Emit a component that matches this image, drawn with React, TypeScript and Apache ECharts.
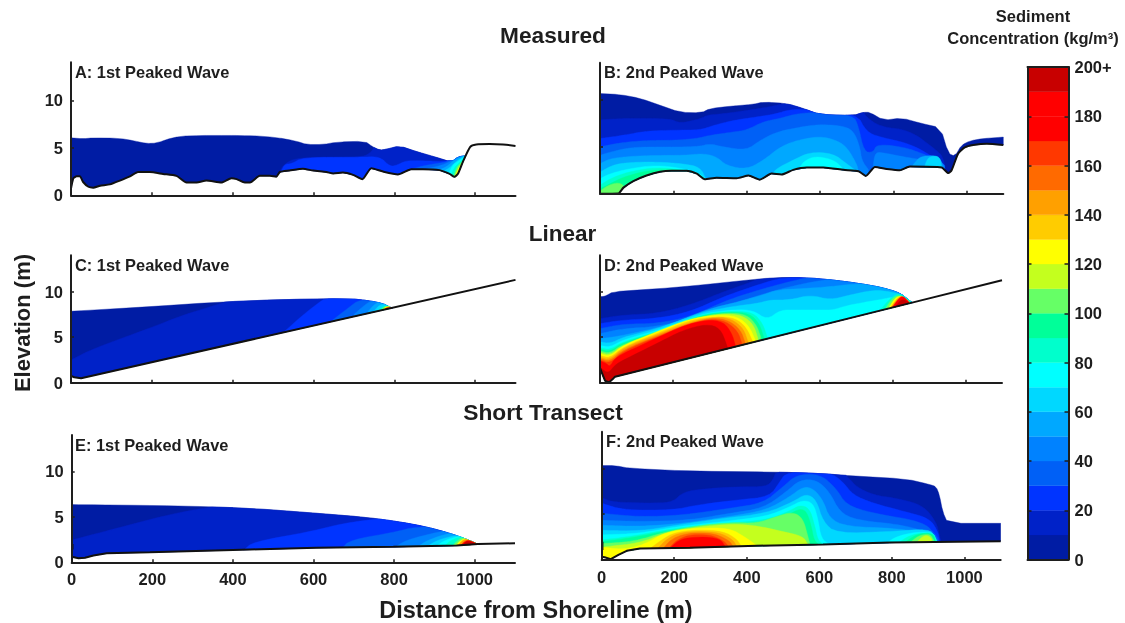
import React, { useEffect, useRef } from "react";
import * as echarts from "echarts";

type Pts = number[][];
type Contour = [number, Pts];

const xTicks = [0, 200, 400, 600, 800, 1000];
const yTicks = [0, 5, 10];
const barTicks = [0, 20, 40, 60, 80, 100, 120, 140, 160, 180, 200];
const barTickTop = "200+";
const bandLevels = [0, 10, 20, 30, 40, 50, 60, 70, 80, 90, 100, 110, 120, 130, 140, 150, 160, 170, 180, 190];
const bandColors = ["#001ca4", "#0022c8", "#0034ff", "#0060f6", "#0082ff", "#00a8ff", "#00d8ff", "#00ffff", "#00ffcc", "#00ff99", "#66ff66", "#c4ff1e", "#ffff00", "#ffcc00", "#ffa000", "#ff6a00", "#ff3800", "#ff0000", "#ff0000", "#c80000"];

const panelLabels = ["A: 1st Peaked Wave", "B: 2nd Peaked Wave", "C: 1st Peaked Wave", "D: 2nd Peaked Wave", "E: 1st Peaked Wave", "F: 2nd Peaked Wave"];

// Panel A
const bedA: Pts = [[0,0.7],[6,1.8],[14,2],[22,2],[30,1.4],[43,0.9],[55,0.8],[72,1],[96,1.15],[121,1.55],[146,2],[166,2.45],[195,2.45],[228,2.25],[261,2.05],[286,1.35],[311,1.35],[335,1.55],[372,1.35],[397,1.8],[410,1.7],[430,1.35],[443,1.35],[467,2.05],[492,2.05],[508,1.95],[517,2.45],[541,2.6],[574,2.8],[599,2.6],[632,2.45],[649,2.3],[673,2.4],[698,2.15],[721,1.7],[743,2.85],[772,2.5],[809,2.2],[842,2.75],[871,2.75],[912,2.65],[937,2.25],[949,1.95],[958,2.3],[970,3.55],[988,5.1],[1003,5.35],[1036,5.4],[1069,5.35],[1100,5.2]];
const surfaceA: Pts = [[0,6.05],[30,5.95],[55,6.05],[121,6],[154,5.75],[187,5.45],[212,5.5],[253,6.1],[294,6.3],[443,6.3],[508,6.1],[558,5.7],[583,5.35],[624,5.35],[657,5.6],[727,5.7],[747,5.1],[764,4.75],[780,4.85],[813,5.2],[855,4.6],[904,4],[941,3.5],[958,4.05],[974,4.15]];
const contoursA: Contour[] = [
  [10, [[517,2.5],[525,3.2],[558,4],[690,4],[723,4.1],[739,4.4],[752,5.1],[764,6.5],[980,6.5]]],
  [20, [[520,2.5],[529,3.3],[545,3.3],[574,4],[714,4],[764,4.1],[790,3],[808,3.2],[829,3.65],[866,3.65],[941,3.5],[950,5],[980,5]]],
  [30, [[846,2.8],[871,3.1],[912,3.4],[937,3.55],[945,5],[980,5]]],
  [40, [[880,2.8],[912,3.1],[937,3.5],[950,3.95],[975,4.2]]],
  [50, [[912,2.7],[930,3],[950,3.8],[975,4.2]]],
  [60, [[925,2.6],[940,3],[952,3.55],[975,4.2]]],
  [70, [[935,2.4],[945,3.2],[955,3.5],[975,4.1]]],
  [80, [[942,2.3],[950,3],[960,3.4],[975,4]]],
  [100, [[947,2],[955,3],[965,3.4],[975,3.9]]],
  [120, [[950,2],[958,2.8],[968,3.4],[974,3.7]]],
  [140, [[955,2.1],[962,2.8],[970,3.4]]],
];

// Panel B
const bedB: Pts = [[0,0],[50,0.02],[64,0.65],[91,1.35],[127,1.95],[164,2.35],[195,2.45],[236,2.45],[264,2.15],[286,1.55],[318,1.7],[373,1.65],[405,1.95],[436,1.5],[468,2.15],[495,2.05],[527,2.55],[564,2.8],[609,2.8],[664,2.55],[705,2.4],[725,1.9],[750,2.85],[782,2.65],[818,2.5],[845,2.9],[932,2.8],[950,2.2],[959,2.5],[977,4.3],[995,4.95],[1018,5.2],[1055,5.35],[1100,5.2]];
const surfaceB: Pts = [[0,10.7],[55,10.6],[109,10.2],[164,9.45],[218,8.7],[277,8.65],[300,9.1],[355,9.35],[418,9.55],[445,9.8],[509,9.65],[555,9.1],[600,8.45],[691,8.35],[718,8.7],[736,8.7],[773,7.85],[823,8.1],[873,7.55],[929,7.05],[950,4.3],[968,4],[986,5.2],[1009,5.65],[1045,5.9],[1100,6.05]];
const contoursB: Contour[] = [
  [10, [[0,7.9],[64,8.05],[191,8.05],[218,7.5],[277,8.05],[291,8.4],[336,8.55],[400,8.9],[464,9.3],[509,9.7],[555,9.7],[700,9.7],[718,8.8],[727,8.2],[764,7.15],[845,6.8],[918,4.65],[936,3.95],[945,2]]],
  [20, [[0,5.9],[64,6.25],[127,6.7],[200,6.8],[273,6.8],[309,7.3],[364,7.85],[427,8.2],[482,8.55],[518,9],[564,9],[700,8.6],[727,6.6],[764,6.05],[845,5.35],[909,3.95],[927,3.2],[940,2.6]]],
  [30, [[0,5],[55,5.45],[127,5.7],[200,5.7],[264,5.9],[300,6.25],[364,6.6],[400,6.8],[445,7.7],[491,8.05],[536,8.55],[591,8.7],[691,8.4],[705,7.2],[720,4.5],[745,4.4],[755,5.3],[827,5],[880,4.3],[918,3.6],[935,3]]],
  [40, [[0,4.1],[27,4.45],[82,4.95],[155,5],[264,5],[300,5.35],[336,5],[400,4.65],[436,5.7],[482,6.6],[536,7.05],[591,7.4],[655,7.3],[691,6.8],[709,5],[714,3.55],[732,2.6]]],
  [40, [[745,3],[750,4.3],[764,4.45],[827,3.95],[891,3.55],[918,3.95],[940,3]]],
  [50, [[0,3.2],[27,3.75],[82,4],[155,4.1],[227,4.1],[282,4.3],[318,3.95],[345,3],[400,2.6],[445,3.55],[491,5],[536,5.7],[600,6.15],[645,5.7],[673,5],[700,3.2],[705,2.4]]],
  [50, [[850,2.85],[860,3.4],[875,4],[915,4.1],[930,3.6],[935,2.8]]],
  [60, [[0,2.3],[36,3.1],[82,3.35],[155,3.4],[227,3.2],[273,2.85],[290,1.5]]],
  [60, [[470,2.1],[482,2.7],[527,3.6],[573,4.45],[636,4.3],[673,3.2],[700,2.4]]],
  [60, [[885,2.8],[890,3.5],[900,4],[927,4],[932,2.8]]],
  [70, [[0,1.6],[27,2.15],[82,2.7],[155,3.05],[227,2.7],[273,2.15],[290,1.5]]],
  [70, [[545,2.8],[555,3.4],[580,3.95],[615,3.85],[645,3.4],[664,2.6]]],
  [80, [[0,0.9],[27,1.6],[73,2.3],[155,2.85],[227,2.5],[264,2.15]]],
  [90, [[0,0.55],[27,1.05],[64,1.8],[136,2.55],[218,2.55],[245,2.3]]],
  [100, [[0,0.3],[27,1],[55,1.2],[70,0.6]]],
];

// Panel C
const bedC: Pts = [[0,0.75],[8,0.6],[25,0.5],[1100,11.3]];
const surfaceC: Pts = [[0,7.85],[195,8.35],[360,8.85],[525,9.15],[690,9.25],[739,9],[772,8.7],[789,8.3],[797,8.2]];
const contoursC: Contour[] = [
  [10, [[0,2.5],[55,3.75],[195,6],[278,7.45],[360,8.55],[410,9.3],[800,9.3]]],
  [20, [[520,5.3],[574,7.45],[616,8.9],[632,9.3],[800,9.3]]],
  [30, [[645,6.8],[690,8.35],[714,9.15],[800,9.15]]],
  [40, [[700,7.5],[731,8.7],[745,9],[800,9]]],
  [50, [[735,7.8],[750,8.6],[765,8.9],[800,8.9]]],
  [60, [[750,7.9],[765,8.6],[780,8.6],[800,8.5]]],
  [80, [[762,8],[772,8.4],[790,8.4]]],
  [100, [[770,8.1],[776,8.4],[790,8.4]]],
  [120, [[773,8],[778,8.35],[792,8.35]]],
  [140, [[776,8],[780,8.3],[790,8.3]]],
  [170, [[775,8],[782,8.25],[793,8.25],[796,8.15]]],
];

// Panel D
const bedD: Pts = [[0,1.6],[6,1],[14,0.2],[25,0.05],[35,0.4],[41,0.66],[854,8.8],[1100,11.25]];
const surfaceD: Pts = [[0,9.45],[14,9.5],[36,10],[110,10.2],[200,10.45],[292,10.8],[384,11.2],[475,11.55],[566,11.55],[658,11.2],[749,10.65],[795,10.2],[822,9.8],[840,9.25],[854,8.8]];
const contoursD: Contour[] = [
  [10, [[0,7.05],[64,7.45],[155,7.6],[247,8.55],[338,10],[402,10.9],[447,11.6],[860,11.6]]],
  [20, [[0,6.5],[64,6.9],[155,7.05],[247,7.8],[338,9.45],[402,10.35],[466,11.2],[511,11.6],[860,11.6]]],
  [30, [[0,5.95],[64,6.45],[155,6.5],[247,7.25],[338,8.9],[402,9.8],[484,10.75],[539,11.3],[575,11.6],[860,11.6]]],
  [40, [[0,5.4],[64,5.95],[155,6.15],[247,7.05],[338,8.35],[411,9.3],[484,10.2],[557,10.9],[630,11.4],[680,11.6],[860,11.6]]],
  [50, [[0,4.85],[36,5],[110,5.6],[201,6.5],[292,8.05],[384,8.95],[447,9.65],[484,10.2],[557,10.35],[630,10.55],[703,10.9],[758,10.8],[860,10.8]]],
  [60, [[0,4.5],[27,4.3],[64,5],[91,5.25],[174,6.15],[274,7.7],[365,8.4],[429,8.7],[466,9.1],[520,9.1],[575,9.65],[630,9.1],[685,9.65],[749,10.2],[795,10],[831,9.6],[860,9]]],
  [70, [[0,4.1],[27,3.9],[64,4.75],[174,5.95],[274,7.55],[365,8.05],[420,7.95],[457,6.9],[493,8],[539,8],[603,8],[640,8],[667,8.4],[731,8.9],[776,9.2],[800,9.4],[831,9.4]]],
  [80, [[0,3.85],[27,3.6],[64,4.55],[174,5.8],[274,7.5],[365,7.9],[420,7.7],[445,6.5],[457,5.1]]],
  [80, [[767,8],[790,9.1],[817,9.9],[840,9.25],[854,8.8]]],
  [90, [[0,3.7],[27,3.4],[64,4.45],[174,5.7],[274,7.4],[355,7.8],[410,7.6],[436,6.5],[448,5]]],
  [100, [[0,3.5],[27,3.2],[64,4.3],[174,5.6],[274,7.3],[350,7.7],[400,7.5],[428,6.4],[440,5]]],
  [100, [[781,8.15],[799,9.25],[817,9.65],[840,9.15],[849,8.8]]],
  [110, [[0,3.35],[27,3],[64,4.2],[174,5.5],[274,7.2],[340,7.6],[390,7.4],[420,6.4],[432,4.9]]],
  [120, [[0,3.2],[27,2.85],[64,4.15],[155,5.6],[247,7.05],[320,7.45],[375,7.3],[407,6.3],[425,4.7]]],
  [120, [[790,8.2],[805,9.2],[822,9.6],[840,9.1],[847,8.8]]],
  [130, [[0,3],[27,2.7],[64,3.95],[155,5.4],[247,6.9],[320,7.3],[370,7.1],[400,6.1],[417,4.6]]],
  [140, [[0,2.8],[27,2.5],[64,3.85],[155,5.25],[247,6.7],[320,7.25],[360,7],[392,6],[405,4.5]]],
  [140, [[795,8.25],[813,9.25],[826,9.55],[840,9]]],
  [150, [[0,2.65],[27,2.3],[64,3.65],[155,5.1],[247,6.55],[310,7.15],[352,6.85],[385,5.8],[397,4.4]]],
  [160, [[0,2.5],[27,2.1],[64,3.5],[155,5],[247,6.4],[300,7],[345,6.75],[378,5.6],[388,4.3]]],
  [170, [[0,2.4],[18,2.1],[27,1.75],[41,2.7],[73,3.4],[155,4.9],[228,6.3],[292,6.9],[338,6.7],[361,5.4],[370,4.15]]],
  [170, [[799,8.25],[817,9.25],[829,9.55],[845,8.9]]],
  [190, [[3,1.6],[22,1],[41,1.95],[64,2.5],[155,4.3],[228,5.8],[292,6.45],[329,6],[347,4.15],[350,3.6]]],
  [190, [[808,8.35],[826,9.25],[845,8.8]]],
];

// Panel E
const bedE: Pts = [[0,0.6],[17,0.45],[33,0.5],[54,0.75],[87,1],[194,1.1],[400,1.35],[607,1.6],[798,1.7],[955,1.85],[1008,2],[1100,2.1]];
const surfaceE: Pts = [[0,6.35],[112,6.3],[277,6.2],[442,5.95],[607,5.4],[731,4.95],[814,4.45],[880,3.9],[938,3.2],[979,2.55],[1008,2]];
const markE: Pts = [[2,1.4],[2,2]];
const contoursE: Contour[] = [
  [10, [[0,2.45],[112,3.75],[236,5.2],[318,5.9],[400,6.4],[1010,6.4]]],
  [20, [[426,1.3],[450,2.25],[590,3.35],[674,4.3],[773,4.85],[830,5],[1010,5]]],
  [30, [[670,1.5],[690,2.45],[806,3.35],[855,3.95],[1010,4]]],
  [40, [[800,1.6],[830,2.45],[897,3.2],[930,3.5],[1010,3.5]]],
  [50, [[858,1.7],[884,2.45],[938,3.25],[1010,3.25]]],
  [60, [[880,1.7],[908,2.45],[955,3],[1010,3]]],
  [70, [[905,1.8],[925,2.4],[960,2.9],[1010,2.9]]],
  [80, [[925,1.8],[940,2.4],[965,2.85],[1010,2.85]]],
  [100, [[945,1.8],[955,2.3],[970,2.75],[1010,2.7]]],
  [120, [[953,1.8],[962,2.3],[975,2.65],[1010,2.6]]],
  [140, [[958,1.8],[967,2.3],[978,2.6],[1010,2.5]]],
  [170, [[965,1.85],[975,2.3],[985,2.45],[1005,2.1]]],
  [190, [[971,1.9],[979,2.3],[992,2.3],[1004,2]]],
];

// Panel F
const bedF: Pts = [[0,0.35],[8,0.3],[25,0.1],[46,0.55],[69,1],[105,1.25],[243,1.35],[427,1.55],[610,1.7],[794,1.9],[977,2],[1100,2.05]];
const surfaceF: Pts = [[0,10.3],[37,10.3],[78,10],[243,9.7],[482,9.6],[601,9.45],[702,9.15],[839,8.85],[904,8.25],[922,8],[931,7.1],[940,5.3],[954,4],[1100,4]];
const markF: Pts = [[2,1.1],[2,2]];
const contoursF: Contour[] = [
  [10, [[0,6.8],[32,6.3],[151,6.2],[197,6.35],[225,7.45],[289,7.8],[381,8],[454,8],[472,8.75],[482,9.8],[656,9.8],[683,8.9],[702,8],[748,7.1],[812,6.75],[885,6],[922,4.2],[931,2.75],[936,1.9]]],
  [20, [[0,6.2],[60,5.45],[197,5.45],[261,6],[372,6.55],[463,6.9],[491,8.55],[509,9.6],[628,9.6],[665,8.55],[693,7.1],[748,6.2],[839,5.25],[904,4.55],[927,3.1],[931,2.2]]],
  [30, [[0,5.1],[105,4.7],[225,4.9],[353,5.65],[445,6.2],[500,8],[537,9.3],[601,9.4],[647,7.8],[674,6],[748,5.1],[885,4.2],[922,2.75],[930,2]]],
  [40, [[0,4.35],[105,4.2],[243,4.35],[353,5.1],[445,5.65],[509,7.45],[546,8.75],[592,8.75],[628,7.45],[656,5.25],[702,4.35],[839,3.8],[913,2.75],[925,2]]],
  [50, [[0,3.8],[105,3.65],[225,4],[353,4.75],[454,5.45],[518,6.9],[555,8],[583,7.8],[610,6.55],[628,4.55],[674,3.65],[821,3.45],[908,2.75],[920,2]]],
  [60, [[0,3.25],[105,3.15],[206,3.8],[335,4.55],[454,5.1],[527,6.35],[564,7.25],[592,6.55],[610,4.2],[647,2.9],[794,3.1],[904,3.4],[918,2.5],[925,1.9]]],
  [70, [[0,2.75],[105,2.9],[206,3.65],[335,4.2],[454,4.75],[518,5.8],[555,6.55],[583,6.2],[596,4.55],[605,2.35],[628,1.7]]],
  [70, [[785,1.85],[812,2.55],[858,3],[913,3.1],[925,2]]],
  [80, [[0,2.2],[78,2.55],[197,3.45],[335,4],[454,4.35],[518,5.35],[546,6],[573,5.65],[587,3.8],[596,2.2],[610,1.7]]],
  [80, [[820,1.9],[840,2.5],[870,2.9],[913,3],[922,2]]],
  [90, [[0,2],[78,2.4],[197,3.3],[335,3.85],[454,4.1],[518,5],[546,5.6],[565,5.3],[578,3.7],[585,2.2],[598,1.7]]],
  [90, [[835,1.9],[860,2.6],[880,2.9],[913,2.9],[920,2.1]]],
  [100, [[0,1.8],[87,2],[179,3.1],[271,3.8],[362,4.1],[427,4],[482,4.75],[527,5.25],[555,4.55],[569,2.5],[575,1.6]]],
  [100, [[850,1.9],[875,2.7],[905,2.85],[915,2.2]]],
  [110, [[0,1.4],[105,1.85],[170,2.9],[261,3.6],[362,3.95],[427,3.75],[500,3.1],[555,2.6],[570,1.6]]],
  [110, [[870,2],[885,2.6],[900,2.7],[910,2.3]]],
  [120, [[0,1.4],[60,1.15],[115,1.65],[179,3.1],[261,3.5],[353,3.5],[399,2.4],[427,1.6]]],
  [130, [[135,1.3],[165,2.2],[200,3],[261,3.3],[335,3.15],[372,2.3],[385,1.5]]],
  [140, [[155,1.3],[180,2.3],[210,2.9],[261,3.15],[325,3],[362,2.2],[372,1.5]]],
  [150, [[170,1.3],[190,2.2],[220,2.75],[261,3],[315,2.85],[352,2.1],[362,1.5]]],
  [160, [[185,1.3],[205,2.1],[230,2.6],[261,2.8],[305,2.7],[340,2],[350,1.4]]],
  [170, [[190,1.35],[216,2.3],[271,2.55],[326,2.35],[342,1.4]]],
];

const INK = "#1e1e1e";
const FONT = "'Liberation Sans', Arial, sans-serif";
const panelFrames = [
  { left: 71, top: 62.3, width: 444.5, height: 133 },
  { left: 600, top: 62.7, width: 403.3, height: 131 },
  { left: 71, top: 255.3, width: 444.5, height: 127.4 },
  { left: 600, top: 255.3, width: 402, height: 127.4 },
  { left: 71.7, top: 435, width: 443.3, height: 127.3 },
  { left: 601.7, top: 431.7, width: 399, height: 128.3 },
];
const panelData = [
  { bed: bedA, surface: surfaceA, contours: contoursA, mark: null as Pts | null, smooth: 0.2 },
  { bed: bedB, surface: surfaceB, contours: contoursB, mark: null, smooth: 0.2 },
  { bed: bedC, surface: surfaceC, contours: contoursC, mark: null, smooth: 0 },
  { bed: bedD, surface: surfaceD, contours: contoursD, mark: null, smooth: 0 },
  { bed: bedE, surface: surfaceE, contours: contoursE, mark: markE, smooth: 0 },
  { bed: bedF, surface: surfaceF, contours: contoursF, mark: markF, smooth: 0 },
];

function at(curve: Pts, x: number): number {
  if (x <= curve[0][0]) return curve[0][1];
  for (let i = 1; i < curve.length; i++) {
    if (x <= curve[i][0]) {
      const [x0, y0] = curve[i - 1];
      const [x1, y1] = curve[i];
      return x1 === x0 ? y1 : y0 + ((y1 - y0) * (x - x0)) / (x1 - x0);
    }
  }
  return curve[curve.length - 1][1];
}

// Corner rounding only: the read-off vertices stay the control polygon.
function rounded(curve: Pts, passes: number): Pts {
  let c = curve;
  for (let n = 0; n < passes; n++) {
    const next: Pts = [c[0]];
    for (let i = 0; i + 1 < c.length; i++) {
      const [ax, ay] = c[i];
      const [bx, by] = c[i + 1];
      next.push([ax * 0.75 + bx * 0.25, ay * 0.75 + by * 0.25], [ax * 0.25 + bx * 0.75, ay * 0.25 + by * 0.75]);
    }
    next.push(c[c.length - 1]);
    c = next;
  }
  return c;
}

// Region between a contour and the bed, cut to the wet area under the surface.
function clipContour(top: Pts | null, bed: Pts, surface: Pts): Pts {
  const lo = Math.max(surface[0][0], top ? top[0][0] : -Infinity);
  const hi = Math.min(surface[surface.length - 1][0], top ? top[top.length - 1][0] : Infinity);
  const upper = (x: number) => (top ? at(top, x) : Infinity);
  const set = new Set<number>([lo, hi]);
  [top || [], bed, surface].forEach((c) => c.forEach((p) => { if (p[0] > lo && p[0] < hi) set.add(p[0]); }));
  let xs = Array.from(set).sort((a, b) => a - b);
  const extra: number[] = [];
  for (let i = 1; i < xs.length; i++) {
    const a = xs[i - 1];
    const b = xs[i];
    const fns = [
      (x: number) => upper(x) - at(surface, x),
      (x: number) => upper(x) - at(bed, x),
      (x: number) => at(surface, x) - at(bed, x),
    ];
    fns.forEach((f) => {
      const fa = f(a);
      const fb = f(b);
      if (isFinite(fa) && isFinite(fb) && fa * fb < 0) extra.push(a + ((b - a) * fa) / (fa - fb));
    });
  }
  xs = xs.concat(extra).sort((a, b) => a - b);
  const upperPath: Pts = [];
  const lowerPath: Pts = [];
  xs.forEach((x) => {
    const b = at(bed, x);
    const t = Math.max(Math.min(upper(x), at(surface, x)), b);
    upperPath.push([x, t]);
    lowerPath.unshift([x, b]);
  });
  return upperPath.concat(lowerPath);
}

function colorOf(level: number): string {
  return bandColors[bandLevels.indexOf(level)];
}

function buildOption() {
  const grid: any[] = panelFrames.map((f) => ({ ...f, containLabel: false }));
  const xAxis: any[] = [];
  const yAxis: any[] = [];
  const series: any[] = [];
  const line = { show: true, onZero: false, lineStyle: { color: INK, width: 2 } };
  const labelStyle = { color: INK, fontFamily: FONT, fontWeight: "bold", fontSize: 16.5 };

  panelData.forEach((p, i) => {
    const isBottom = i >= 4;
    const isLeft = i % 2 === 0;
    xAxis.push({
      type: "value", gridIndex: i, min: 0, max: 1100, z: 5, splitLine: { show: false }, axisLine: line,
      axisTick: { show: true, inside: true, length: 3, customValues: xTicks, lineStyle: { color: INK, width: 1.5 } },
      axisLabel: { show: isBottom, customValues: xTicks, margin: 8, ...labelStyle, formatter: (v: number) => String(v) },
    });
    yAxis.push({
      type: "value", gridIndex: i, min: 0, max: 14, z: 5, splitLine: { show: false }, axisLine: line,
      axisTick: { show: true, inside: true, length: 3, customValues: yTicks, lineStyle: { color: INK, width: 1.5 } },
      axisLabel: { show: isLeft, customValues: yTicks, margin: 8, ...labelStyle },
    });
    const surface = rounded(p.surface, 1);
    const layers = [{ level: 0, pts: clipContour(null, p.bed, surface) }].concat(
      p.contours.map(([level, top]) => ({ level, pts: clipContour(rounded(top, 2), p.bed, surface) }))
    );
    series.push({
      type: "custom", xAxisIndex: i, yAxisIndex: i, coordinateSystem: "cartesian2d", clip: true, silent: true, z: 2,
      data: layers.map((l) => [l.pts[0][0], l.pts[0][1], l.level]),
      renderItem: (params: any, api: any) => {
        const l = layers[params.dataIndex];
        const c = colorOf(l.level);
        return {
          type: "polygon",
          shape: { points: l.pts.map((q) => api.coord(q)) },
          style: { fill: c, stroke: c, lineWidth: 0.4 },
        };
      },
    });
    series.push({
      type: "line", xAxisIndex: i, yAxisIndex: i, data: p.bed, showSymbol: false, silent: true, z: 3, clip: true,
      smooth: p.smooth, lineStyle: { color: "#111", width: 2 },
    });
    if (p.mark) {
      series.push({
        type: "line", xAxisIndex: i, yAxisIndex: i, data: p.mark, showSymbol: false, silent: true, z: 3,
        lineStyle: { color: "#111", width: 2 },
      });
    }
  });

  // Colour bar
  const g = 6;
  grid.push({ left: 1027.5, top: 67, width: 41, height: 492.5 });
  const barX = { type: "value", gridIndex: g, min: 0, max: 1, z: 5, axisTick: { show: false }, axisLabel: { show: false }, splitLine: { show: false }, axisLine: line };
  xAxis.push({ ...barX, position: "bottom" }, { ...barX, position: "top" });
  const barY = {
    type: "value", gridIndex: g, min: 0, max: 200, interval: 20, z: 5, splitLine: { show: false }, axisLine: line,
    axisTick: { show: true, inside: true, length: 4, lineStyle: { color: INK, width: 1.5 } },
  };
  yAxis.push(
    { ...barY, position: "left", axisLabel: { show: false } },
    {
      ...barY, position: "right",
      axisLabel: {
        show: true, margin: 6, ...labelStyle, customValues: barTicks,
        formatter: (v: number) => (v === 200 ? barTickTop : String(v)),
      },
    }
  );
  series.push({
    type: "custom", xAxisIndex: 6, yAxisIndex: 6, coordinateSystem: "cartesian2d", silent: true, z: 2,
    data: bandLevels.map((v) => [0, v]),
    renderItem: (params: any, api: any) => {
      const lo = bandLevels[params.dataIndex];
      const a = api.coord([0, lo]);
      const b = api.coord([1, lo + 10]);
      return {
        type: "rect",
        shape: { x: a[0], y: b[1], width: b[0] - a[0], height: a[1] - b[1] },
        style: { fill: bandColors[params.dataIndex], stroke: bandColors[params.dataIndex], lineWidth: 0.3 },
      };
    },
  });

  const txt = (text: string, x: number, y: number, fontSize: number, align = "center", rotation = 0) => ({
    type: "text", x, y, rotation, z: 10, silent: true,
    style: { text, fontFamily: FONT, fontWeight: "bold", fontSize, fill: INK, textAlign: align, textVerticalAlign: "middle" },
  });
  const labelPos = [[75, 72], [604, 72], [75, 265], [604, 265], [75, 445], [606, 441]];
  const graphic = [
    txt("Measured", 553, 35, 22.7),
    txt("Linear", 562.5, 233, 22.5),
    txt("Short Transect", 543, 412, 22.8),
    txt("Elevation (m)", 22, 323, 22, "center", Math.PI / 2),
    txt("Distance from Shoreline (m)", 536, 610, 23.5),
    txt("Sediment", 1033, 16, 16.5),
    txt("Concentration (kg/m³)", 1033, 38, 16.5),
    ...panelLabels.map((t, i) => txt(t, labelPos[i][0], labelPos[i][1], 16.4, "left")),
  ];

  return { animation: false, backgroundColor: "#fff", grid, xAxis, yAxis, series, graphic };
}

export default function App() {
  const ref = useRef<HTMLDivElement>(null);
  useEffect(() => {
    document.body.style.margin = "0";
    const chart = echarts.init(ref.current!, undefined, { renderer: "svg" });
    chart.setOption(buildOption() as any);
    return () => chart.dispose();
  }, []);
  return <div ref={ref} style={{ position: "absolute", left: 0, top: 0, width: 1125, height: 623, filter: "blur(0.5px)" }} />;
}
